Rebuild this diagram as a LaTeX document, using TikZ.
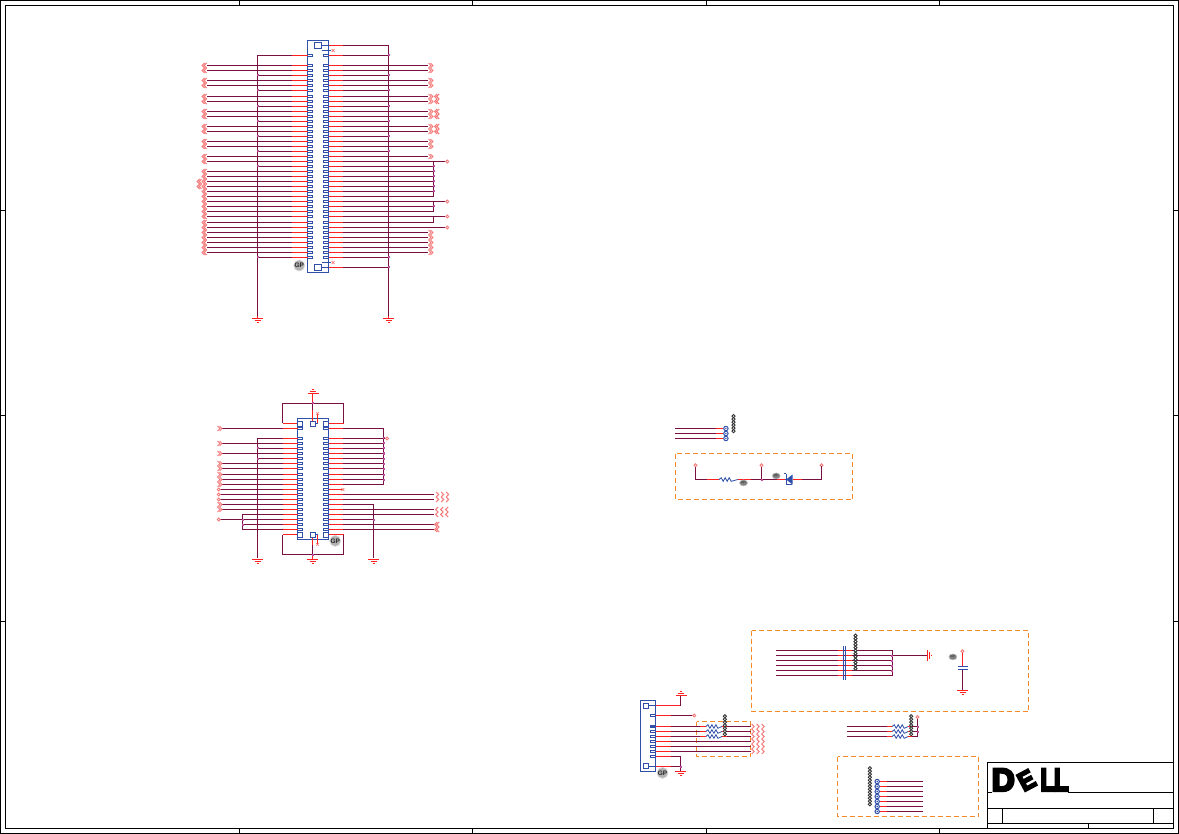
\documentclass[tikz,border=0pt]{standalone}
\usepackage{fontspec}
\setmainfont{Liberation Sans}
\newfontfamily\logofont[UprightFont={* Bold},FakeBold=8]{Liberation Sans}
\usetikzlibrary{shapes.geometric}
\definecolor{wire}{HTML}{7A0F42}
\definecolor{pinred}{HTML}{FF2020}
\definecolor{partblue}{HTML}{2F4FA8}
\definecolor{dashor}{HTML}{F58A2A}
\definecolor{dotpink}{HTML}{BE4FA0}
\definecolor{chevr}{HTML}{F57C7C}
\tikzset{
  wirel/.style={draw=wire,line width=1pt},
  redl/.style={draw=pinred,line width=1pt},
  bluel/.style={draw=partblue,line width=1pt},
  padl/.style={draw=partblue,line width=.9pt,fill=white},
  chevl/.style={draw=chevr,line width=1pt},
  dashbox/.style={draw=dashor,line width=1pt,dash pattern=on 5pt off 3pt},
  frame/.style={draw=black,line width=1pt},
  blob/.style={circle,fill=black!30,draw=black!15,line width=.6pt,minimum size=11pt,inner sep=0pt,text=black!85,font=\fontsize{6.5}{6.5}\selectfont\bfseries},
  smallblob/.style={ellipse,fill=black!50,draw=black!25,line width=.5pt,minimum width=8pt,minimum height=6pt,inner sep=0pt,text=black!85,font=\fontsize{3}{3}\selectfont},
}
\newcommand\jdot[2]{\fill[dotpink] (#1-1,#2-1) rectangle (#1+1,#2+1);}
\newcommand\term[2]{\draw[draw=chevr,line width=.9pt,fill=white] (#1,#2) circle (1.5);}
\newcommand\chvR[2]{\draw[chevl] (#1,#2-2.5) -- (#1+2.5,#2) -- (#1,#2+2.5);}
\newcommand\chvL[2]{\draw[chevl] (#1,#2-2.5) -- (#1-2.5,#2) -- (#1,#2+2.5);}
\newcommand\zig[3]{\draw[bluel,line width=.8pt] (#1,#3) -- (#1+2,#3-1.8) -- (#1+4,#3+1.8) -- (#1+6,#3-1.8) -- (#1+8,#3+1.8) -- (#1+10,#3-1.8) -- (#1+12,#3+1.8) -- (#2,#3);}
\newcommand\ncx[2]{\draw[draw=chevr,line width=.7pt] (#1-1.5,#2-1.5) -- (#1+1.5,#2+1.5) (#1-1.5,#2+1.5) -- (#1+1.5,#2-1.5);}
\newcommand\gnd[2]{\draw[redl] (#1-5.3,#2) -- (#1+5.3,#2) (#1-3,#2+2) -- (#1+3,#2+2) (#1-1,#2+4) -- (#1+1,#2+4);}
\newcommand\chain[3]{\pgfmathsetmacro{\chainnext}{#2+3}\foreach \c in {#2,\chainnext,...,#3}{\draw[black!80,line width=.9pt,fill=white] (#1,\c) circle (1.6);}}
\newcommand\padLa[1]{\draw[padl] (307.3,#1-1.1) rectangle (312.7,#1+1.1);\draw[redl] (292,#1) -- (307.3,#1);}
\newcommand\padRa[1]{\draw[padl] (323.3,#1-1.1) rectangle (328.3,#1+1.1);\draw[redl] (328.3,#1) -- (343,#1);}
\newcommand\padLb[1]{\draw[padl] (297.3,#1-1.1) rectangle (302.7,#1+1.1);\draw[redl] (282.3,#1) -- (297.3,#1);}
\newcommand\padRb[1]{\draw[padl] (323.3,#1-1.1) rectangle (328.3,#1+1.1);\draw[redl] (328.3,#1) -- (343,#1);}
\begin{document}
\begin{tikzpicture}[x=1pt,y=-1pt]
\useasboundingbox (0,0) rectangle (1179,834);
\fill[white] (0,0) rectangle (1179,834);
\begin{scope}[xshift=.2pt,yshift=-.2pt]
% ---- frame
\draw[frame] (.3,.3) rectangle (1178.3,833.3);
\draw[frame] (5.3,5.3) rectangle (1173.3,828.3);
\foreach \x in {239.3,472.3,706.3,939.3}{\draw[frame] (\x,.3) -- (\x,5.3) (\x,828.3) -- (\x,833.3);}
\foreach \y in {210.3,415.3,621.3}{\draw[frame] (.3,\y) -- (5.3,\y) (1173.3,\y) -- (1178.3,\y);}
% ---- title block
\draw[frame] (1173.3,762.3) -- (987.3,762.3) -- (987.3,828.3);
\draw[frame] (987.3,792.3) -- (1173.3,792.3);
\draw[frame] (987.3,808.3) -- (1173.3,808.3);
\draw[frame] (987.3,823.3) -- (1173.3,823.3);
\draw[frame] (1002.3,808.3) -- (1002.3,823.3);
\draw[frame] (1153.3,808.3) -- (1153.3,823.3);
\draw[frame] (1088.3,823.3) -- (1088.3,828.3);
\fill[white] (992,790) rectangle (1068,794);
\begin{scope}[every node/.style={inner sep=0pt,text=black,anchor=base}]
\node[font=\logofont\fontsize{32}{32}\selectfont] (logoD) at (1003,790.7) {D};
\node[rotate=28,font=\logofont\fontsize{26}{26}\selectfont,xscale=.9] (logoE) at (1030.5,788) {E};
\node[font=\logofont\fontsize{32}{32}\selectfont,xscale=.75] (logoL) at (1047.5,790.7) {L};
\node[font=\logofont\fontsize{32}{32}\selectfont,xscale=.75] (logoLL) at (1061,790.7) {L};
\end{scope}
% ====== connector 1
\draw[bluel,fill=white] (307.3,40.3) rectangle (328.3,272.3);
\draw[wirel] (292,55.3) -- (257.3,55.3) -- (257.3,316);
\draw[wirel] (343,45.3) -- (388.3,45.3) -- (388.3,316);
\gnd{257.3}{318.3}\gnd{388.3}{318.3}
\draw[redl] (257.3,316) -- (257.3,318) (388.3,316) -- (388.3,318);
\draw[redl] (328.3,45.3) -- (343,45.3);
\draw[redl] (328.3,267.3) -- (343,267.3);
\draw[wirel] (343,267.3) -- (388.3,267.3);
\jdot{388.3}{267.3}
\foreach \y in {55.3,65.3,70.3,75.3,80.3,85.3,90.3,96.3,101.3,106.3,111.3,116.3,121.3,126.3,131.3,136.3,141.3,146.3,151.3,156.3,161.3,166.3,171.3,176.3,181.3,186.3,191.3,196.3,201.3,206.3,211.3,216.3,222.3,227.3,232.3,237.3,242.3,247.3,252.3,257.3}{\padLa{\y}\padRa{\y}}
\foreach \y in {75.3,90.3,106.3,121.3,136.3,151.3,166.3,257.3}{\draw[wirel] (257.3,\y) -- (292,\y);\jdot{257.3}{\y}}
\foreach \y in {55.3,75.3,90.3,106.3,121.3,136.3,151.3,257.3}{\draw[wirel] (343,\y) -- (388.3,\y);\jdot{388.3}{\y}}
\foreach \y in {65.3,70.3,80.3,85.3,96.3,101.3,111.3,116.3,126.3,131.3,141.3,146.3,156.3,161.3,171.3,176.3,181.3,186.3,191.3,196.3,201.3,206.3,211.3,216.3,222.3,227.3,232.3,237.3,242.3,247.3,252.3}{\draw[wirel] (206.7,\y) -- (292,\y);\chvL{206.5}{\y}\chvL{204.5}{\y}}
\chvL{201.5}{181.3}\chvL{199.5}{181.3}\chvL{201.5}{186.3}\chvL{199.5}{186.3}
\foreach \y in {65.3,70.3,80.3,85.3,96.3,101.3,111.3,116.3,126.3,131.3,141.3,146.3,156.3,232.3,237.3,242.3,247.3,252.3}{\draw[wirel] (343,\y) -- (428,\y);\chvR{428.3}{\y}\chvR{430.3}{\y}}
\foreach \y in {96.3,101.3,111.3,116.3,126.3,131.3}{\chvL{439}{\y}\chvL{437}{\y}}
\foreach \y in {161.3,166.3,171.3,176.3,181.3,186.3,191.3,196.3,201.3,206.3,211.3,216.3,222.3,227.3}{\draw[wirel] (343,\y) -- (433.3,\y);}
\draw[wirel] (433.3,161.3) -- (433.3,196.3);
\draw[wirel] (433.3,201.3) -- (433.3,211.3);
\draw[wirel] (433.3,216.3) -- (433.3,222.3);
\foreach \y in {161.3,201.3,216.3,227.3}{\draw[wirel] (433.3,\y) -- (445,\y);\term{447}{\y}}
\foreach \y in {166.3,171.3,176.3,181.3,186.3,191.3,206.3}{\jdot{433.3}{\y}}
\draw[padl] (314.3,42.3) rectangle (321.3,48.3);
\draw[padl] (314.3,264.3) rectangle (321.3,270.3);
\draw[bluel] (321.3,45.3) -- (328.3,45.3) (321.3,267.3) -- (328.3,267.3);
\draw[bluel] (321.3,50.3) -- (331,50.3);\ncx{333}{50.3}
\draw[bluel] (321.3,262.3) -- (331,262.3);\ncx{333}{262.3}
\node[blob] (bl1) at (299,265.3) {GP};
% ====== connector 2
\draw[bluel,fill=white] (297.3,418.3) rectangle (328.3,539.3);
\draw[wirel] (282.3,423.3) -- (282.3,403.3) -- (343.3,403.3) -- (343.3,423.3);
\draw[wirel] (282.3,534.3) -- (282.3,554.3) -- (343.3,554.3) -- (343.3,534.3);
\draw[redl] (282.3,423.3) -- (297.3,423.3) (328.3,423.3) -- (343.3,423.3);
\draw[redl] (282.3,534.3) -- (297.3,534.3) (328.3,534.3) -- (343.3,534.3);
\draw[padl] (297.3,421.3) rectangle (302.7,426.3);
\draw[padl] (323.3,421.3) rectangle (328.3,426.3);
\draw[padl] (297.3,532.3) rectangle (302.7,537.3);
\draw[padl] (323.3,532.3) rectangle (328.3,537.3);
\foreach \y in {428.3,438.3,443.3,448.3,453.3,458.3,463.3,468.3,474.3,479.3,484.3,489.3,494.3,499.3,504.3,509.3,514.3,519.3,524.3,529.3}{\padLb{\y}\padRb{\y}}
\draw[redl] (312.3,393.3) -- (312.3,421.3);
\draw[redl] (312.3,537.3) -- (312.3,559);
\draw[wirel] (312.3,403.3) -- (312.3,410);
\draw[wirel] (312.3,545) -- (312.3,554.3);
\jdot{312.3}{403.3}\jdot{312.3}{554.3}
\draw[padl] (310.3,421.3) rectangle (315.3,426.3);
\draw[padl] (310.3,532.3) rectangle (315.3,537.3);
\draw[bluel] (315.3,423.3) -- (317.3,423.3);\draw[redl] (317.3,423.3) -- (317.3,414);\ncx{317.3}{413.3}
\draw[bluel] (315.3,534.3) -- (317.3,534.3);\draw[redl] (317.3,534.3) -- (317.3,544);\ncx{317.3}{544.3}
\draw[redl] (307.3,393.3) -- (318.3,393.3) (309.3,391.3) -- (315.3,391.3) (311.3,389.3) -- (313.3,389.3);
\gnd{257.3}{559.3}\gnd{312.3}{559.3}\gnd{373.3}{559.3}
\foreach \y in {428.3,443.3,453.3,463.3,468.3,474.3,479.3,484.3,504.3,509.3}{\draw[wirel] (221.7,\y) -- (282.3,\y);\chvR{217.3}{\y}\chvR{219.3}{\y}}
\foreach \y in {489.3,494.3,499.3,519.3}{\draw[wirel] (220,\y) -- (282.3,\y);\term{218.5}{\y}}
\draw[wirel] (282.3,438.3) -- (257.3,438.3) -- (257.3,558);
\foreach \y in {448.3,458.3}{\draw[wirel] (257.3,\y) -- (282.3,\y);\jdot{257.3}{\y}}
\draw[wirel] (282.3,514.3) -- (242.3,514.3) -- (242.3,529.3) -- (282.3,529.3);
\draw[wirel] (242.3,524.3) -- (282.3,524.3);
\jdot{242.3}{519.3}\jdot{242.3}{524.3}
\draw[wirel] (343,428.3) -- (383.3,428.3) -- (383.3,484.3) -- (343,484.3);
\foreach \y in {438.3,443.3,448.3,453.3,458.3,463.3,468.3,474.3,479.3}{\draw[wirel] (343,\y) -- (383.3,\y);\jdot{383.3}{\y}}
\draw[wirel] (383.3,438.3) -- (385.5,438.3);\term{386.7}{438.3}
\ncx{342.7}{489.3}
\foreach \y in {494.3,499.3}{\draw[wirel] (343,\y) -- (434,\y);\chvR{436}{\y}\chvR{441}{\y}\chvR{446}{\y}}
\foreach \y in {509.3,514.3}{\draw[wirel] (343,\y) -- (434,\y);\chvL{438}{\y}\chvL{443}{\y}\chvL{448}{\y}}
\foreach \y in {524.3,529.3}{\draw[wirel] (343,\y) -- (434,\y);\chvL{437}{\y}\chvL{439}{\y}}
\draw[wirel] (343,504.3) -- (373.3,504.3) -- (373.3,558);
\draw[wirel] (343,519.3) -- (373.3,519.3);\jdot{373.3}{519.3}
\node[blob] (bl2) at (335,540.7) {GP};
% ====== test points
\foreach \y in {428.3,433.3,438.3}{\draw[wirel] (675,\y) -- (723,\y);\draw[redl] (716,\y) -- (723,\y);\draw[bluel,fill=white] (725.7,\y) circle (2.2);\fill[partblue] (725.7,\y) circle (.8);}
\chain{733.3}{416}{433}
% ====== resistor + diode group
\draw[dashbox] (675.3,453.3) rectangle (852.3,499.3);
\draw[wirel] (695.3,466) -- (695.3,479.3) -- (707,479.3);
\draw[redl] (707,479.3) -- (719,479.3);
\zig{719}{737.7}{479.3}
\draw[redl] (737.7,479.3) -- (750.7,479.3);
\draw[wirel] (750.7,479.3) -- (777,479.3);
\draw[redl] (777,479.3) -- (785,479.3);
\draw[wirel] (761.3,466) -- (761.3,479.3);
\jdot{761.3}{479.3}
\term{695.3}{465}\term{761.3}{465}\term{821.3}{465}
\fill[partblue] (792.3,474.3) -- (792.3,484.3) -- (786,479.3) -- cycle;
\draw[bluel] (785,479.3) -- (786,479.3) (786,473.5) -- (786,484.3) -- (792,484.3) (784,473.5) -- (786,473.5);
\draw[redl] (792.3,479.3) -- (802,479.3);
\draw[wirel] (802,479.3) -- (821.3,479.3) -- (821.3,466);
\node[smallblob] (bl3) at (743.3,482.7) {GP};
\node[smallblob] (bl4) at (776,475.7) {GP};
% ====== upper-right dashed group
\draw[dashbox] (751.3,630.3) rectangle (1028.3,711.3);
\foreach \y in {650.3,655.3,660.3,665.3,670.3,675.3}{\draw[wirel] (776,\y) -- (892.3,\y);\draw[redl] (838,\y) -- (843.3,\y) (845.5,\y) -- (852,\y);}
\draw[wirel] (892.3,650.3) -- (892.3,675.3);
\foreach \y in {655.3,660.3,665.3,670.3}{\jdot{891.8}{\y}}
\draw[bluel] (843.3,645.7) -- (843.3,679.3) (845.5,645.7) -- (845.5,679.3);
\chain{855.3}{635.5}{671}
\draw[wirel] (892.3,655.3) -- (927,655.3);
\draw[redl] (927.3,650) -- (927.3,660.5) (929.3,652) -- (929.3,658.5) (931.3,654.5) -- (931.3,656);
\node[smallblob] (bl5) at (952.7,656.7) {GP};
\term{962.3}{651}
\draw[redl] (962.3,652.5) -- (962.3,666.7);
\draw[bluel] (958,666.3) -- (967.3,666.3) (958,669.3) -- (967.3,669.3);
\draw[wirel] (962.3,669.3) -- (962.3,690);
\gnd{962.3}{690.3}
% ====== small RP
\foreach \y in {726.3,731.3,736.3}{\draw[wirel] (846.7,\y) -- (886.7,\y);\draw[redl] (886.7,\y) -- (892,\y);\zig{892}{908}{\y}\draw[redl] (908,\y) -- (912,\y);\draw[wirel] (912,\y) -- (917.3,\y);}
\draw[wirel] (917.3,718) -- (917.3,736.3);
\term{917.3}{716.7}
\jdot{917.3}{726.3}\jdot{917.3}{731.3}
\chain{911}{716}{735.7}
% ====== bottom connector
\draw[dashbox] (696.3,721.3) rectangle (750.3,756.3);
\draw[bluel,fill=white] (640.3,700.3) rectangle (655.3,771.3);
\draw[padl] (643.3,703.3) rectangle (648.3,708.3);
\draw[padl] (643.3,763.3) rectangle (648.3,768.3);
\draw[bluel] (648.3,705.3) -- (655.3,705.3) (648.3,766.3) -- (655.3,766.3);
\foreach \y in {715.3,726.3,731.3,736.3,741.3,746.3,751.3,756.3}{\draw[padl] (650.3,\y-1.1) rectangle (655.3,\y+1.1);}
\fill[partblue] (650.3,725) rectangle (655.3,727.6);
\foreach \y in {705.3,715.3,726.3,731.3,736.3,741.3,746.3,751.3,756.3,766.3}{\draw[redl] (655.3,\y) -- (670.7,\y);}
\draw[redl] (670.7,705.3) -- (680.3,705.3);
\draw[wirel] (680.3,705.3) -- (680.3,695);
\draw[redl] (675.3,695.3) -- (686.3,695.3) (677.3,693.3) -- (684,693.3) (680,691.3) -- (681.5,691.3);
\draw[wirel] (670.7,715.3) -- (692.5,715.3);\term{694}{715.3}
\foreach \y in {726.3,731.3,736.3}{\draw[wirel] (670.7,\y) -- (700,\y);\draw[redl] (700,\y) -- (705.7,\y);\zig{705.7}{721.7}{\y}\draw[redl] (721.7,\y) -- (727,\y);\draw[wirel] (727,\y) -- (750.7,\y);}
\foreach \y in {741.3,746.3,751.3}{\draw[wirel] (670.7,\y) -- (750.7,\y);}
\foreach \y in {726.3,731.3,736.3,741.3,746.3,751.3}{\chvR{751.5}{\y}\chvR{756.5}{\y}\chvR{761.5}{\y}}
\draw[wirel] (670.7,756.3) -- (680.3,756.3) -- (680.3,771);
\draw[wirel] (670.7,766.3) -- (680.3,766.3);\jdot{680.3}{766.3}
\gnd{680.3}{771.3}
\chain{724.7}{716}{735}
\node[blob] (bl6) at (662.3,772.7) {GP};
% ====== lower-right group
\draw[dashbox] (837.3,756.3) rectangle (978.3,816.3);
\chain{869.7}{768}{806}
\foreach \y in {781.3,786.3,791.3,796.3,801.3,806.3,811.3}{\draw[wirel] (887,\y) -- (922.7,\y);\draw[redl] (880,\y) -- (887,\y);\draw[bluel,fill=white] (877,\y) circle (2.2);\fill[partblue] (877,\y) circle (.8);}
\end{scope}
\end{tikzpicture}
\end{document}
